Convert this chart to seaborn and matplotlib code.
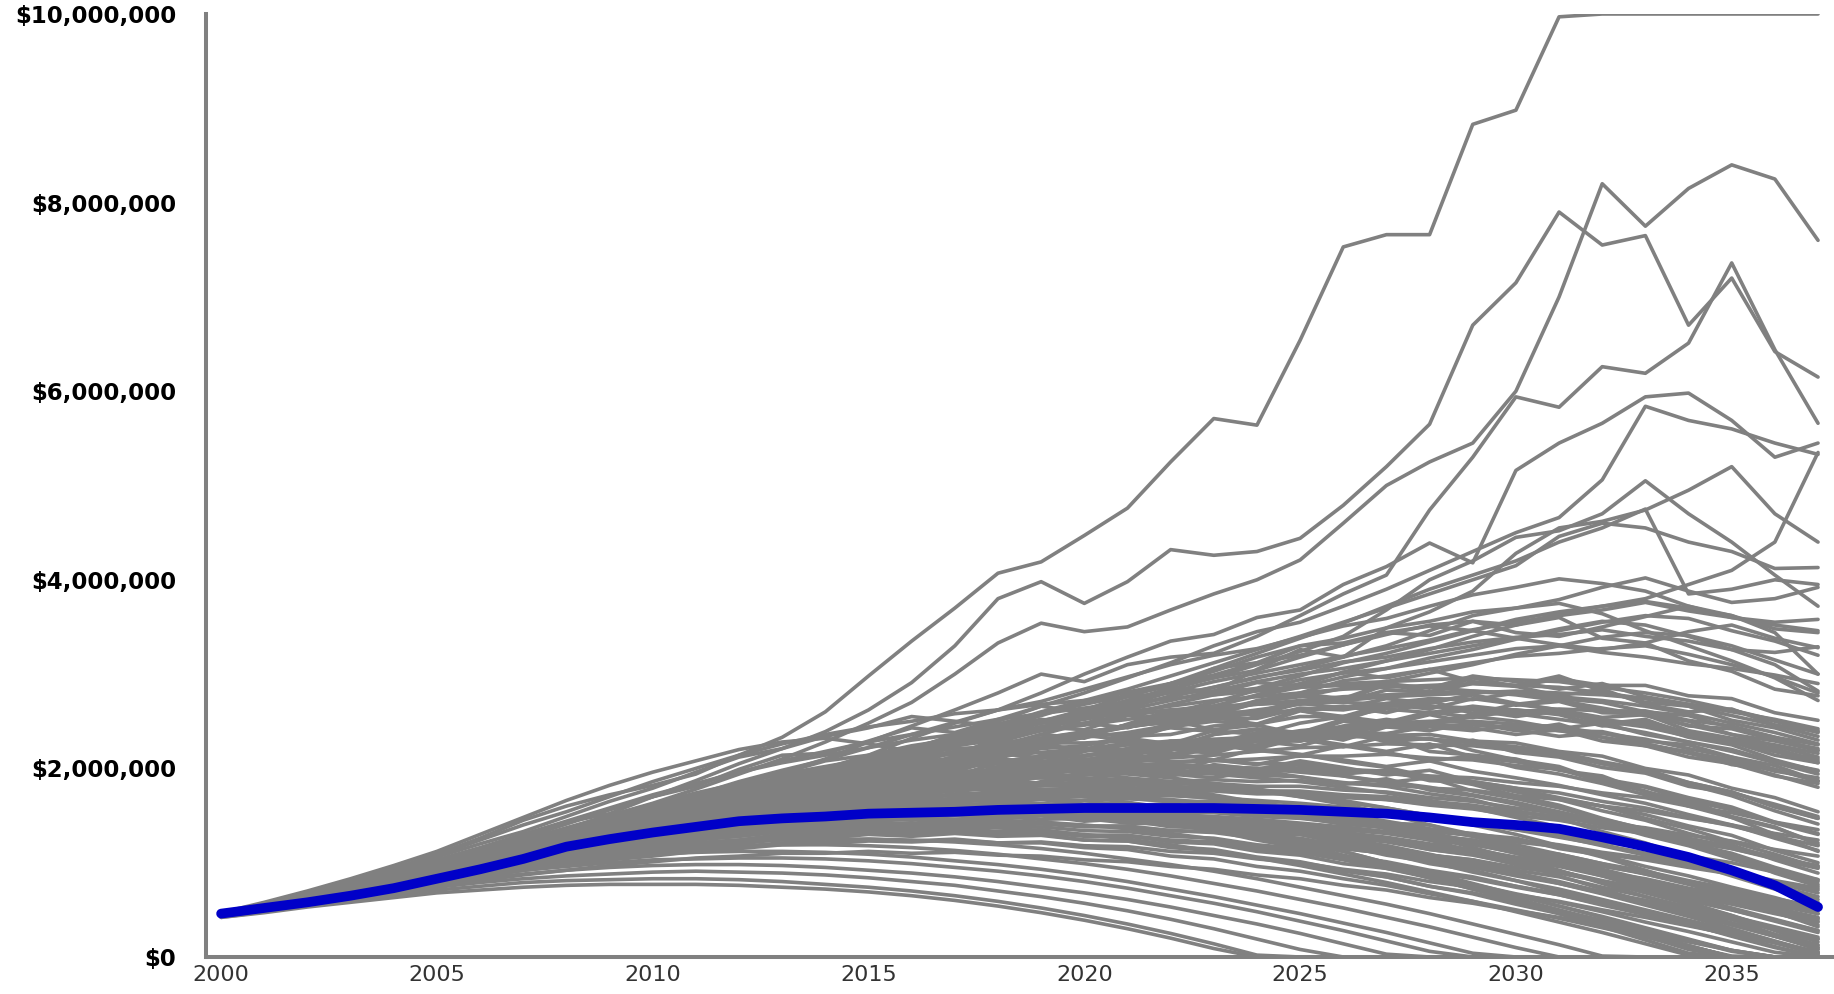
import matplotlib
matplotlib.use("Agg")
import matplotlib.pyplot as plt
import pandas as pd
import seaborn as sns
from matplotlib.ticker import FuncFormatter

# Simulated portfolio balances, one list per trial, in units of $10,000 (2000-2037)
years = list(range(2000, 2038))

high_paths = [
    [46,56,67,79,93,109,126,145,160,172,182,194,214,233,260,298,335,370,407,419,447,476,525,571,564,654,753,766,766,883,898,997,1000,1000,1000,1000,1000,1000],
    [45,54,64,76,87,100,113,126,141,156,170,187,205,221,239,262,291,330,380,398,375,398,432,426,430,444,479,520,565,670,715,790,755,765,670,720,642,615],
    [44,53,62,72,84,96,110,121,136,150,163,178,194,210,228,248,270,300,333,354,345,350,368,385,400,421,460,500,525,545,600,700,820,775,815,840,825,760],
    [44,52,60,70,80,90,102,114,126,138,150,162,176,188,200,214,232,248,262,280,300,318,335,342,360,368,395,414,439,418,516,545,566,594,598,569,530,545],
    [44,52,61,70,80,92,104,116,128,140,152,168,182,196,210,228,245,262,280,300,292,310,318,322,340,362,385,405,474,530,594,583,626,619,651,736,644,566],
    [45,53,62,71,80,90,100,112,124,134,146,158,170,182,192,206,220,236,250,266,280,296,312,330,345,355,372,390,410,430,450,466,506,584,569,560,545,533],
    [44,52,61,70,80,91,101,112,123,133,144,157,163,180,186,199,218,214,232,251,246,268,286,281,305,326,318,349,366,388,428,455,462,474,495,520,470,440],
    [45,53,62,71,81,91,102,113,124,135,146,157,168,179,190,201,212,224,236,248,260,272,284,296,310,324,340,368,400,420,445,452,470,505,470,440,405,372],
    [44,52,60,69,78,88,98,109,120,131,142,154,166,178,190,202,214,224,236,250,262,276,290,306,322,338,354,372,390,405,420,440,455,475,385,390,400,395],
    [45,54,63,72,82,92,103,114,125,137,149,160,172,184,196,208,220,232,246,260,272,284,298,312,326,340,355,370,385,400,415,446,460,455,440,430,412,413],
    [44,52,60,68,77,86,96,106,116,126,136,146,156,166,176,186,196,206,216,226,236,246,256,266,278,290,302,314,326,340,352,364,372,380,395,410,440,535],
]

upper_paths = [
    [45,54,64,74,85,97,109,121,134,146,159,172,186,198,209,222,236,249,262,271,284,297,310,320,327,339,351,359,372,384,392,401,396,388,372,360,352,346],
    [46,54,63,73,84,95,106,118,130,142,151,164,176,187,197,210,222,233,243,256,270,281,290,303,318,330,338,349,356,366,370,379,392,402,388,376,380,392],
    [44,52,61,70,80,90,100,112,124,133,146,158,167,180,192,201,214,226,238,251,257,268,281,292,301,310,319,327,336,347,355,362,368,376,367,360,355,358],
    [45,53,62,72,82,93,104,116,127,138,148,160,170,180,193,205,216,225,236,249,262,277,290,299,312,320,331,342,352,356,344,340,350,361,372,362,348,344],
    [46,54,64,74,85,96,108,119,130,142,154,166,178,190,199,212,222,234,247,258,268,277,288,296,304,318,331,344,351,346,338,331,326,333,345,352,338,328],
    [44,52,60,69,78,88,98,108,118,128,138,150,160,169,180,190,200,212,224,236,248,257,268,278,285,298,312,322,334,346,358,366,372,377,370,362,344,300],
    [45,53,62,71,81,92,102,114,126,138,150,160,172,184,193,204,214,224,234,244,254,262,272,282,292,300,306,314,322,330,338,348,356,352,340,326,310,282],
    [43,51,59,68,78,89,97,110,119,131,140,153,162,178,186,202,210,226,233,250,259,279,287,306,312,330,333,344,341,356,352,360,338,333,314,303,284,277],
    [44,52,60,68,77,85,95,104,115,124,135,144,157,166,177,188,199,206,217,226,237,246,259,270,283,294,301,306,313,320,327,330,323,318,311,306,299,290],
    [46,56,66,77,87,99,111,123,135,147,159,170,181,190,201,210,219,226,235,242,253,264,277,286,297,304,313,318,327,334,339,342,347,340,335,326,323,329],
    [45,53,62,71,80,90,100,110,121,130,141,150,161,170,181,190,199,208,219,226,237,246,257,266,277,286,297,306,317,326,337,346,355,362,359,346,335,320],
    [44,51,59,67,76,86,96,106,117,126,137,146,157,166,177,186,197,206,215,224,235,244,253,262,271,276,285,292,301,310,321,330,339,344,341,330,315,300],
    [46,55,65,75,86,98,110,122,134,146,158,168,178,186,195,202,211,218,227,232,239,244,251,258,269,280,293,298,305,312,319,322,327,330,321,310,297,280],
    [45,54,63,72,82,92,102,114,126,138,150,162,172,184,194,206,218,230,240,248,256,266,276,286,296,306,318,330,346,362,370,375,364,346,330,314,296,272],
]

middle_paths = [
    [45,55,64,77,86,97,115,124,143,152,170,181,199,214,216,229,243,238,252,266,259,272,285,279,291,288,302,296,305,292,288,298,282,270,266,251,243,230],
    [46,57,68,79,91,106,120,133,149,165,179,196,212,221,234,243,255,250,244,252,247,257,251,241,246,236,240,228,232,219,209,202,186,176,160,148,130,112],
    [44,53,62,71,84,95,106,118,134,146,160,171,185,195,208,214,224,231,228,240,248,243,255,262,257,269,264,274,269,278,267,271,259,258,245,242,230,221],
    [45,52,60,70,80,91,100,113,123,137,147,161,170,183,188,202,204,218,220,232,235,246,248,259,260,272,271,283,281,290,287,295,288,288,277,274,259,251],
    [44,51,60,68,79,88,98,107,120,127,139,147,159,166,177,184,195,198,208,211,220,220,228,228,234,232,238,235,236,229,227,218,213,200,193,179,169,154],
    [45,54,63,73,82,93,102,113,122,135,143,156,163,174,180,191,196,206,211,221,224,234,236,245,247,255,255,263,259,266,261,261,251,247,233,225,209,197],
    [43,51,59,68,76,86,93,105,112,125,131,145,150,162,167,178,182,193,197,205,209,215,221,222,230,229,238,237,244,240,246,240,239,229,225,212,203,187],
    [46,55,65,75,85,97,107,121,130,145,153,166,171,182,186,195,198,206,207,213,213,221,220,225,223,231,223,234,218,214,210,198,192,175,166,149,138,119],
    [44,52,62,70,80,88,100,109,122,130,143,150,164,172,180,194,199,212,216,223,233,238,246,253,253,264,262,269,274,273,280,274,270,260,256,243,233,219],
    [45,54,63,71,82,91,101,113,120,133,140,150,158,166,170,181,183,187,193,196,199,201,203,202,199,204,194,198,187,185,178,169,160,151,139,129,113,100],
    [44,51,58,66,74,82,91,98,107,116,125,134,142,151,158,165,176,181,189,198,206,213,222,228,233,240,244,248,250,250,247,244,237,231,221,212,199,186],
    [46,55,65,74,85,95,107,118,130,141,152,161,171,178,186,193,197,202,207,211,213,219,222,226,229,233,233,235,231,228,222,215,205,197,183,171,155,141],
    [45,53,61,70,79,90,99,109,119,129,139,148,156,165,172,180,186,193,198,204,209,216,222,229,233,239,242,244,246,246,243,240,233,226,216,206,193,180],
    [43,50,57,65,73,81,90,99,108,117,126,135,144,152,159,168,176,182,189,194,199,206,211,214,218,222,223,226,225,224,219,215,205,197,185,175,160,147],
    [46,55,66,76,88,99,111,124,137,150,162,174,184,194,202,210,215,221,223,227,227,229,225,225,219,215,207,201,191,183,171,161,147,135,119,107,89,75],
    [44,52,60,68,77,86,95,104,113,122,131,140,148,156,164,172,178,185,190,197,201,209,213,221,225,233,237,245,249,257,259,263,261,261,251,245,233,225],
    [45,54,63,73,82,93,102,112,122,132,142,153,160,169,176,185,189,196,199,204,205,209,207,209,205,205,199,197,189,185,175,167,155,145,131,119,103,89],
    [44,52,60,69,78,87,96,105,115,125,134,145,153,162,170,176,182,186,190,194,198,202,206,208,210,213,213,215,211,209,203,199,189,181,169,159,143,131],
    [46,55,64,74,84,94,104,114,124,135,143,153,159,169,173,181,185,191,193,197,197,199,197,197,193,191,185,181,173,167,155,147,133,121,105,93,75,61],
    [45,53,62,71,81,91,102,113,124,136,148,158,168,179,187,195,201,209,213,217,221,225,229,231,233,235,235,233,231,227,223,217,207,199,185,175,159,147],
    [47,58,70,83,97,112,130,148,166,182,196,208,220,228,232,226,218,214,206,200,196,190,186,180,176,170,164,158,150,144,136,128,118,108,98,88,76,64],
    [46,57,68,80,94,108,124,140,154,170,186,200,214,226,236,244,250,258,262,268,272,276,280,282,284,286,288,288,286,282,278,272,264,256,246,236,224,212],
    [45,55,66,77,89,102,115,129,143,157,170,183,196,208,218,228,236,244,252,258,264,270,274,278,282,286,290,292,294,296,294,292,286,280,272,262,250,238],
    [44,53,62,72,82,93,104,116,128,140,152,164,176,188,198,208,218,228,236,244,252,260,266,272,276,280,284,286,288,290,288,286,280,274,266,256,246,234],
    [46,56,67,78,90,103,116,130,144,158,172,184,196,206,214,222,230,236,242,248,254,258,262,266,268,270,270,268,266,262,258,252,246,238,228,218,206,194],
    [45,54,64,74,85,96,108,120,132,144,156,168,180,190,200,208,216,224,232,240,246,252,258,264,268,272,276,278,280,282,280,276,272,266,258,248,238,226],
    [44,52,61,70,80,90,101,112,123,134,145,156,166,176,186,196,204,212,220,228,236,244,250,256,262,268,272,276,278,280,282,280,278,274,268,260,252,242],
    [45,54,63,73,83,94,105,116,127,138,149,160,170,180,190,200,208,216,224,232,238,244,250,254,258,262,264,266,266,264,262,258,252,246,238,228,218,206],
    [44,52,60,69,78,88,98,108,118,128,138,148,156,164,170,176,180,182,184,184,182,180,176,170,164,156,148,138,128,116,104,92,78,64,50,36,22,8],
    [45,53,62,71,81,91,101,111,121,131,141,150,158,166,172,178,182,186,188,190,190,188,186,182,178,172,166,158,150,140,130,118,106,92,78,64,48,32],
    [43,51,59,67,76,85,94,103,112,121,130,138,146,152,158,162,166,168,170,170,170,168,166,162,158,152,146,138,130,120,110,100,88,76,64,52,40,28],
    [46,55,64,74,84,95,106,117,128,139,150,160,170,178,184,190,194,196,198,198,196,194,190,184,178,170,162,152,140,128,116,102,88,72,56,40,24,8],
    [44,52,61,70,79,89,99,109,119,129,139,149,158,166,174,180,186,190,194,196,198,198,196,194,190,186,180,174,166,158,148,138,126,114,100,86,72,58],
    [45,53,62,71,80,90,100,110,120,130,140,150,158,166,174,180,186,192,196,200,202,204,204,202,200,196,192,186,180,172,164,154,144,132,120,108,94,80],
]

scattered_paths = [
    [45,53,63,70,82,90,103,112,126,134,147,158,166,181,186,197,212,207,221,236,232,247,262,256,270,277,272,289,281,296,287,277,284,268,260,263,246,239],
    [44,54,61,73,80,93,99,114,120,136,141,156,163,177,183,199,203,196,211,226,219,236,243,239,256,262,251,266,272,258,268,262,247,252,236,229,218,210],
    [46,55,66,74,87,95,108,119,128,143,150,166,171,186,188,204,197,213,218,230,239,233,248,254,247,262,266,259,270,278,269,262,254,257,240,232,225,216],
    [45,52,62,69,79,89,97,110,118,131,137,150,157,169,174,189,186,200,207,203,218,225,219,236,241,235,250,246,257,248,240,247,233,224,218,204,199,187],
    [44,53,60,71,78,91,97,108,117,126,138,144,157,160,174,172,186,192,188,204,210,205,220,216,229,224,236,230,222,230,217,212,201,195,181,174,162,149],
    [46,56,64,76,84,97,104,119,125,140,146,160,164,178,176,191,188,202,205,199,214,220,214,228,221,232,225,218,226,212,207,199,186,180,166,156,142,130],
    [45,54,63,72,82,92,104,113,125,133,146,152,165,170,182,185,196,192,206,212,207,221,226,219,233,238,230,244,240,249,241,234,238,226,217,209,197,190],
    [44,51,61,68,79,86,98,105,117,124,135,143,149,161,165,178,174,186,190,184,197,201,196,209,204,214,209,202,208,197,190,182,172,163,151,140,126,113],
    [46,55,65,73,85,94,106,116,127,138,145,158,162,175,172,185,190,186,199,204,198,211,216,209,221,214,224,217,208,213,201,194,184,172,163,148,137,121],
    [45,53,61,71,78,90,96,109,114,127,132,144,148,161,163,175,171,183,187,182,194,199,192,204,199,208,201,193,198,186,179,168,160,147,136,122,109,95],
    [44,52,62,69,80,87,99,106,118,125,136,141,152,156,167,164,176,180,175,186,189,183,194,190,198,191,183,189,177,171,162,151,142,129,118,104,91,77],
    [46,54,63,74,82,94,101,115,121,135,140,152,156,167,165,177,174,185,182,192,188,197,192,200,193,201,192,185,190,176,168,158,146,136,121,110,95,82],
    [45,52,60,68,77,85,95,102,113,119,129,134,143,146,155,153,161,158,165,160,166,160,163,155,158,149,151,142,140,130,126,115,108,96,86,74,63,50],
    [44,51,58,67,74,83,90,99,105,115,120,129,132,140,141,148,145,151,146,150,144,147,139,140,131,130,121,118,108,103,92,85,74,64,53,43,32,21],
    [45,53,61,69,78,86,96,103,112,120,127,135,138,146,146,153,150,156,151,154,147,149,141,141,132,130,120,116,106,99,88,79,68,57,46,34,22,10],
    [43,50,57,64,72,80,87,95,101,109,114,121,124,130,131,136,134,137,133,135,129,129,122,120,112,108,99,94,84,77,67,58,48,37,27,16,5,0],
    [46,54,62,71,80,89,98,107,115,124,130,138,142,150,151,157,154,160,155,158,151,152,144,143,134,131,122,117,107,100,89,80,69,59,47,36,24,13],
    [44,52,60,69,77,86,95,104,112,121,127,135,140,147,149,155,153,158,154,157,151,153,146,146,138,136,127,124,114,109,98,91,80,71,60,50,39,28],
    [45,53,61,70,78,87,96,105,114,122,129,137,141,148,150,156,154,158,153,155,148,148,140,138,129,125,115,110,99,92,81,72,61,50,39,28,16,5],
    [43,49,56,63,70,78,85,92,98,104,109,114,117,121,122,125,123,125,121,121,116,114,107,104,96,91,83,76,67,59,50,41,31,21,11,1,0,0],
    [44,51,58,66,73,81,89,96,103,110,115,121,124,129,130,134,131,134,129,130,124,123,116,113,105,100,91,85,75,68,58,49,39,28,18,7,0,0],
    [46,54,63,72,81,91,100,110,118,127,134,142,147,154,157,163,162,167,164,167,162,164,158,158,151,149,141,138,129,124,114,107,97,88,78,68,57,46],
    [45,52,60,68,76,85,93,102,110,118,125,132,137,143,145,150,149,152,149,150,145,145,138,137,129,126,117,113,103,97,87,79,69,60,50,40,30,19],
    [44,52,60,68,77,86,95,104,113,121,128,136,141,148,150,156,155,159,156,158,153,154,148,147,140,138,130,126,117,112,102,96,86,77,67,58,48,38],
    [46,56,65,77,86,99,110,123,132,147,156,170,177,192,198,212,209,224,230,244,241,256,262,257,272,279,274,290,285,298,292,284,290,276,268,262,251,240],
    [45,54,64,73,84,93,106,115,128,137,150,158,172,176,190,195,206,203,216,222,235,230,244,250,246,261,255,268,263,274,268,273,262,257,250,236,229,219],
    [44,53,62,72,81,92,101,113,122,134,142,155,162,174,179,192,188,202,210,206,220,227,222,236,242,238,252,247,258,262,255,261,250,244,234,228,214,206],
    [46,55,64,74,84,95,104,117,125,139,147,161,167,181,185,199,196,209,216,211,225,232,226,240,236,248,255,249,260,254,262,257,245,250,238,231,221,208],
    [45,54,63,72,83,92,104,114,126,135,148,156,169,175,188,187,200,206,201,214,220,215,229,226,238,234,245,252,246,255,250,242,248,236,228,220,207,198],
    [44,52,61,70,80,89,100,109,121,129,141,148,160,166,178,180,192,189,202,208,203,217,222,218,232,229,240,236,247,243,236,241,229,224,212,205,192,184],
]

lower_paths = [
    [44,51,59,66,75,82,91,98,107,113,121,126,133,136,142,143,147,146,149,146,147,142,141,134,131,123,118,108,101,90,81,69,59,46,35,22,10,0],
    [43,50,57,64,72,80,86,94,100,107,111,117,120,125,126,130,128,131,128,129,124,123,117,114,106,101,92,85,75,67,56,46,35,24,12,0,0,0],
    [45,52,60,69,77,86,94,103,110,118,124,131,135,141,143,148,147,151,149,151,148,149,144,143,137,134,127,122,114,108,99,91,81,72,61,50,38,26],
    [44,51,58,65,73,81,88,96,102,109,114,120,123,128,129,133,132,134,132,133,129,129,124,122,116,112,105,99,91,84,75,67,57,48,37,27,16,5],
    [45,53,62,71,80,89,98,106,114,122,128,134,139,143,146,149,150,152,151,152,149,149,145,143,138,135,129,125,118,113,105,99,90,83,73,65,55,46],
    [43,49,55,62,68,75,81,87,92,97,101,105,107,110,110,112,110,111,108,107,103,101,96,93,87,83,76,71,63,57,49,42,33,25,16,7,0,0],
    [44,50,57,64,71,78,85,92,97,103,107,112,115,119,120,123,122,124,121,122,118,117,112,110,104,100,93,88,80,74,66,59,50,42,33,24,15,5],
    [46,54,62,71,79,88,97,105,113,121,127,134,138,144,146,151,151,154,153,155,152,153,149,148,143,141,135,131,124,119,111,105,96,89,80,72,62,53],
    [45,52,60,68,76,84,92,100,107,114,119,125,128,133,134,138,137,139,137,138,134,133,128,126,119,115,107,101,92,85,75,66,55,45,34,23,11,0],
    [44,52,60,68,77,86,95,103,112,120,126,133,138,144,147,152,153,157,156,158,156,158,154,155,150,149,144,141,135,131,124,119,111,105,97,90,81,73],
    [43,50,57,65,72,80,88,95,101,108,113,119,122,127,128,132,131,133,131,132,128,128,123,121,115,111,104,98,90,83,74,66,56,47,36,26,15,3],
    [45,53,61,70,79,88,97,106,114,123,130,137,143,149,152,157,158,162,161,163,160,161,157,156,150,148,141,137,129,124,115,109,99,91,81,72,61,51],
    [44,51,59,67,75,83,92,100,107,115,121,127,131,136,138,142,142,144,142,143,139,139,134,132,126,122,115,110,101,95,86,78,68,60,49,40,29,19],
    [46,54,63,72,81,90,100,109,118,127,134,142,148,155,159,165,167,172,172,175,174,177,175,176,173,173,169,167,162,159,153,149,142,137,129,123,114,107],
    [45,53,61,70,79,88,97,106,115,124,131,139,145,151,155,160,162,166,166,168,166,168,165,165,161,160,155,152,146,142,135,130,122,116,107,100,90,82],
    [44,52,60,68,77,86,94,103,111,119,126,133,138,144,147,152,153,157,156,158,156,157,154,153,149,147,142,139,133,129,122,117,109,103,95,88,79,71],
    [43,50,58,66,74,82,90,98,105,112,118,124,128,133,135,139,139,141,140,141,138,138,134,133,128,125,119,115,108,103,95,89,80,73,64,56,46,37],
    [45,52,60,69,77,86,95,103,111,119,125,132,137,143,146,150,151,154,153,154,151,152,148,146,141,138,132,127,120,114,106,99,90,82,72,63,52,42],
    [46,55,64,73,83,93,103,113,122,132,140,148,155,162,167,172,175,179,180,182,181,183,180,180,176,175,170,167,161,157,150,145,137,131,122,115,105,97],
    [44,52,59,68,76,85,93,102,109,117,123,130,134,140,142,147,147,150,149,150,147,148,144,143,138,135,129,125,118,112,104,97,88,80,70,61,51,41],
    [45,54,63,72,82,92,102,112,122,132,141,150,158,165,171,177,181,186,188,192,193,196,196,198,197,198,196,196,192,190,185,181,174,169,160,153,143,135],
    [44,53,61,71,80,90,99,109,118,128,136,145,152,159,164,170,173,178,179,182,182,184,183,184,181,181,177,175,169,165,158,152,143,136,126,117,106,96],
    [46,55,65,75,86,96,107,117,128,138,147,156,164,171,177,183,187,192,194,197,198,201,200,202,200,200,197,195,190,186,179,174,165,158,148,139,128,118],
    [45,53,62,72,81,91,101,111,120,130,138,147,153,160,165,171,174,179,180,184,184,187,186,188,186,187,184,183,179,177,171,167,160,155,147,140,131,124],
    [44,52,61,70,79,89,98,108,117,126,134,142,149,155,160,166,168,173,174,177,177,179,178,179,176,176,172,170,165,161,154,149,140,133,123,115,104,94],
]

depleted_paths = [
    [42,47,53,58,63,68,71,74,76,77,77,77,76,74,72,69,65,60,54,47,39,30,20,9,0,0,0,0,0,0,0,0,0,0,0,0,0,0],
    [43,49,55,61,66,71,75,79,81,82,83,83,82,80,77,74,70,65,59,52,44,35,25,14,2,0,0,0,0,0,0,0,0,0,0,0,0,0],
    [42,48,55,61,68,74,79,83,86,88,90,91,90,89,87,84,80,76,70,64,57,49,40,30,19,8,0,0,0,0,0,0,0,0,0,0,0,0],
    [44,50,57,64,70,77,83,88,92,95,97,98,98,97,95,92,89,85,80,74,68,61,53,44,35,25,14,3,0,0,0,0,0,0,0,0,0,0],
    [43,50,57,65,72,80,86,92,96,100,103,104,105,105,104,102,99,95,91,86,80,73,65,57,48,38,28,17,6,0,0,0,0,0,0,0,0,0],
    [45,52,60,68,75,83,90,96,101,105,109,111,112,112,111,109,106,102,98,93,87,80,72,64,55,46,36,26,15,4,0,0,0,0,0,0,0,0],
    [44,51,59,66,74,82,89,96,102,108,112,116,118,119,119,118,116,113,109,104,99,93,86,78,70,61,52,42,32,21,10,0,0,0,0,0,0,0],
    [43,50,58,66,74,82,90,97,104,110,115,119,122,124,125,125,124,122,119,115,110,104,98,91,83,74,65,56,46,35,24,13,1,0,0,0,0,0],
    [45,53,61,70,78,87,96,104,112,119,125,130,134,137,139,140,140,139,137,134,130,125,119,112,105,97,88,79,69,59,48,37,26,14,2,0,0,0],
    [44,52,60,68,77,86,94,103,111,118,125,131,136,140,143,145,146,146,145,143,140,136,131,125,118,111,103,94,85,75,65,54,43,31,19,7,0,0],
    [46,54,63,72,81,90,99,108,117,126,134,141,147,152,156,159,161,162,162,161,159,156,152,147,141,134,126,118,109,99,89,78,67,55,43,30,17,4],
    [45,53,62,71,80,89,98,107,116,124,132,139,145,150,154,157,159,160,160,159,157,154,150,145,139,132,125,117,108,99,89,79,68,57,46,34,22,10],
    [44,52,61,70,79,89,99,109,119,128,137,145,152,158,163,167,170,172,173,173,172,170,167,163,158,152,146,139,131,122,113,103,93,82,71,59,47,34],
    [45,54,63,73,83,93,104,114,124,133,142,150,157,163,168,172,175,177,178,178,177,175,172,168,163,157,151,144,136,128,119,109,99,88,77,65,53,40],
    [43,50,58,66,74,83,92,101,110,119,128,136,143,149,155,160,164,167,169,171,172,172,171,169,166,163,159,154,148,142,135,127,119,110,100,90,79,68],
    [44,51,59,67,75,83,91,99,107,115,122,129,135,140,144,147,150,152,153,154,154,153,151,149,146,142,138,133,127,121,114,106,98,89,80,70,60,49],
    [45,53,62,72,82,92,104,114,126,136,146,154,162,166,172,170,174,170,168,162,158,150,142,136,126,118,106,96,84,72,60,48,34,22,8,0,0,0],
    [44,52,60,70,80,91,100,112,122,134,142,152,158,166,168,174,172,176,170,168,160,156,146,140,128,120,108,98,86,74,62,50,38,24,12,0,0,0],
    [46,55,65,75,86,98,110,122,134,146,156,166,172,180,182,186,184,186,180,178,170,164,154,146,134,124,112,100,88,74,60,46,32,18,4,0,0,0],
    [45,53,61,70,79,88,98,108,118,128,136,144,150,156,158,162,162,164,160,158,152,148,140,134,124,116,106,96,84,72,60,48,36,24,12,0,0,0],
    [44,51,59,67,76,85,95,104,114,122,131,138,146,150,156,158,162,160,160,156,154,148,144,136,130,120,112,100,90,78,66,54,42,30,18,6,0,0],
    [46,55,64,74,84,95,106,118,128,140,150,160,168,176,180,186,188,192,190,190,186,184,178,172,164,156,146,136,124,112,100,86,72,58,44,30,16,2],
    [43,50,57,65,73,81,90,98,106,114,122,128,134,140,144,148,152,154,156,156,156,154,152,148,144,138,132,126,118,110,100,90,80,68,56,44,30,16],
    [45,53,62,71,81,91,101,112,122,132,142,150,158,164,170,174,178,180,182,182,180,178,174,170,164,158,150,142,132,122,110,98,86,72,58,44,28,12],
]

median_path = [46,52,58,65,73,83,93,104,117,125,132,138,144,147,149,152,153,154,156,157,
               158,158,158,158,157,156,154,152,148,143,140,136,127,117,106,92,76,53]

x_ticks = [2000, 2005, 2010, 2015, 2020, 2025, 2030, 2035]
y_ticks = [0, 2_000_000, 4_000_000, 6_000_000, 8_000_000, 10_000_000]

UNIT = 10_000
AXIS_GREY = "#808080"

rows = []
all_paths = (high_paths + upper_paths + middle_paths + scattered_paths
             + lower_paths + depleted_paths)
for i, path in enumerate(all_paths):
    assert len(path) == len(years), (i, len(path))
    for yr, v in zip(years, path):
        rows.append((yr, i, v * UNIT))
trials = pd.DataFrame(rows, columns=["year", "trial", "balance"])
median = pd.DataFrame({"year": years, "balance": [v * UNIT for v in median_path]})

sns.set_style("white")
plt.rcParams["font.family"] = ["DejaVu Sans"]

fig = plt.figure(figsize=(18.34, 9.94), dpi=100)
ax = fig.add_axes([206 / 1834, 37 / 994, 1628 / 1834, 943 / 994])

sns.lineplot(data=trials, x="year", y="balance", units="trial", estimator=None,
             color=AXIS_GREY, linewidth=2.6, legend=False, ax=ax)
sns.lineplot(data=median, x="year", y="balance", color="#0000c8",
             linewidth=7, legend=False, ax=ax)

ax.set_xlim(1999.65, 2037.37)
ax.set_ylim(0, 10_000_000)
ax.set_xticks(x_ticks)
ax.set_yticks(y_ticks)
ax.yaxis.set_major_formatter(FuncFormatter(lambda v, _: f"${int(v):,}"))
ax.set_xlabel("")
ax.set_ylabel("")

for side in ("top", "right"):
    ax.spines[side].set_visible(False)
for side in ("left", "bottom"):
    ax.spines[side].set_color(AXIS_GREY)
    ax.spines[side].set_linewidth(2.9)
    ax.spines[side].set_zorder(5)

ax.tick_params(axis="y", direction="inout", length=17, width=2.9, color=AXIS_GREY,
               pad=13, labelsize=16.5, labelcolor="black")
ax.tick_params(axis="x", length=0, pad=6, labelsize=16, labelcolor="#333333")
for lbl in ax.get_yticklabels():
    lbl.set_fontweight("bold")

fig.savefig("out.png", dpi=100, facecolor="white")
